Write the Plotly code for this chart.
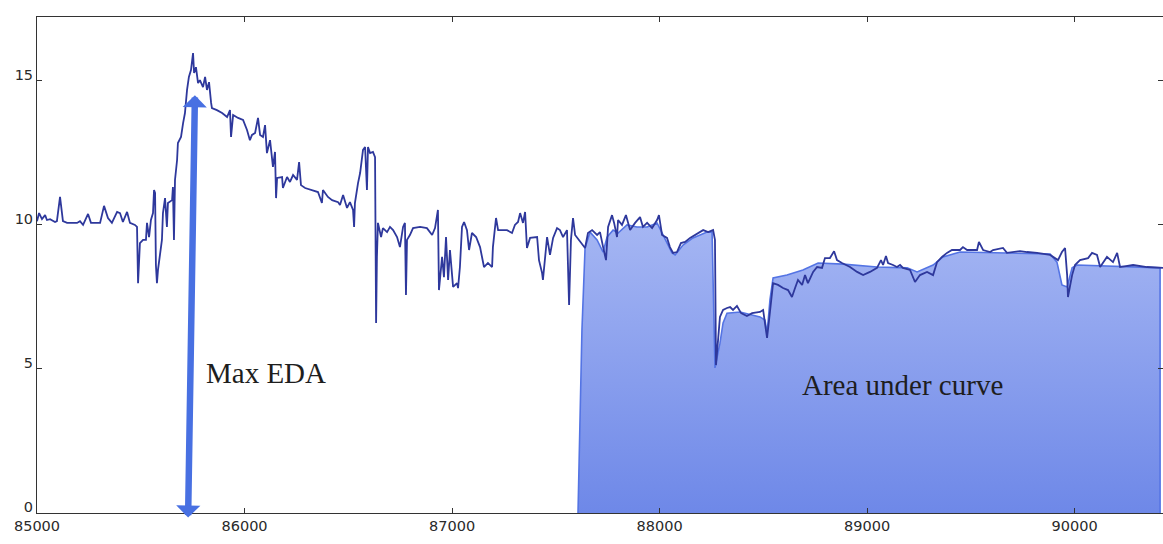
import plotly.graph_objects as go

# ---- EDA signal ----
eda_time = [
    85000, 85010, 85024, 85039, 85048, 85063, 85087, 85096, 85111, 85125,
    85145, 85193, 85207, 85222, 85246, 85260, 85304, 85323, 85342, 85361,
    85386, 85400, 85414, 85434, 85448, 85472, 85482, 85487, 85496, 85511,
    85525, 85530, 85540, 85549, 85559, 85564, 85569, 85573, 85578, 85583,
    85602, 85607, 85617, 85626, 85631, 85651, 85655, 85660, 85665, 85675,
    85679, 85694, 85704, 85713, 85723, 85732, 85742, 85752, 85757, 85766,
    85776, 85785, 85800, 85810, 85819, 85829, 85839, 85843, 85867, 85892,
    85916, 85930, 85935, 85945, 85969, 85993, 86012, 86026, 86036, 86051,
    86065, 86075, 86089, 86099, 86108, 86123, 86137, 86147, 86152, 86157,
    86181, 86185, 86205, 86219, 86234, 86253, 86263, 86272, 86292, 86330,
    86354, 86373, 86378, 86402, 86422, 86451, 86460, 86475, 86494, 86508,
    86523, 86528, 86532, 86547, 86557, 86571, 86581, 86590, 86595, 86605,
    86619, 86629, 86634, 86638, 86643, 86658, 86667, 86687, 86701, 86716,
    86735, 86749, 86764, 86773, 86778, 86783, 86797, 86812, 86846, 86879,
    86904, 86918, 86932, 86937, 86952, 86961, 86971, 86981, 86990, 87005,
    87024, 87029, 87038, 87048, 87058, 87072, 87082, 87096, 87116, 87135,
    87154, 87173, 87193, 87197, 87212, 87222, 87265, 87289, 87303, 87318,
    87328, 87342, 87352, 87361, 87376, 87410, 87419, 87434, 87438, 87458,
    87472, 87487, 87506, 87520, 87535, 87554, 87564, 87573, 87583, 87593,
    87617, 87641, 87655, 87675, 87699, 87713, 87728, 87742, 87752, 87771,
    87781, 87795, 87800, 87819, 87838, 87858, 87882, 87906, 87920, 87940,
    87964, 87988, 87997, 88012, 88036, 88050, 88065, 88084, 88103, 88123,
    88147, 88171, 88195, 88210, 88234, 88258, 88267, 88272, 88291, 88306,
    88325, 88340, 88354, 88373, 88393, 88421, 88446,
    88484, 88499, 88518, 88532, 88547, 88571, 88595, 88619, 88638, 88653,
    88667, 88687, 88701, 88715, 88740, 88759, 88783, 88797, 88821, 88841,
    88855, 88879, 88918, 88952, 88981, 89014, 89048, 89067, 89077, 89091,
    89101, 89125, 89144, 89159, 89173, 89207, 89231, 89255, 89289, 89318,
    89337, 89361, 89385, 89409, 89448, 89462, 89482, 89530, 89539, 89559,
    89593, 89607, 89655, 89674, 89737, 89771, 89819, 89882, 89906, 89920,
    89939, 89954, 89964, 89968, 89988, 90002, 90026, 90065, 90084, 90108,
    90123, 90156, 90185, 90205, 90219, 90282, 90349, 90426,
]
eda_value = [
    10.12, 10.40, 10.19, 10.33, 10.16, 10.19, 10.09, 10.12, 10.96, 10.12,
    10.06, 10.06, 10.12, 9.99, 10.37, 10.06, 10.06, 10.65, 10.23, 10.06,
    10.44, 10.40, 10.09, 10.44, 10.06, 9.99, 9.92, 7.97, 9.36, 9.47,
    9.47, 10.06, 9.57, 10.16, 10.40, 11.20, 11.10, 8.60, 7.97, 8.43,
    9.47, 10.40, 10.92, 9.92, 10.75, 10.85, 11.30, 9.47, 11.55, 12.24,
    12.83, 13.04, 13.52, 13.87, 14.67, 15.12, 15.36, 15.95, 15.26, 15.46,
    14.91, 15.01, 14.77, 15.12, 14.67, 14.94, 14.22, 14.04, 13.97, 13.87,
    13.73, 13.97, 13.04, 13.80, 13.70, 13.63, 13.28, 12.93, 13.11, 13.18,
    13.70, 13.11, 13.04, 13.45, 12.48, 12.93, 12.00, 12.52, 10.92, 11.62,
    11.65, 11.27, 11.65, 11.48, 11.72, 11.55, 12.17, 11.37, 11.27, 11.20,
    11.13, 10.75, 11.20, 10.96, 10.85, 10.78, 10.68, 11.03, 10.58, 10.78,
    10.51, 9.92, 10.75, 11.44, 11.79, 12.59, 12.69, 11.20, 12.69, 12.48,
    12.52, 12.34, 6.59, 8.88, 10.06, 9.57, 9.88, 9.74, 9.92, 9.81,
    9.57, 9.22, 9.92, 10.06, 7.56, 9.47, 9.64, 9.88, 9.92, 9.88,
    9.64, 9.88, 10.51, 7.73, 8.88, 8.18, 9.57, 8.08, 9.12, 7.84,
    7.97, 7.80, 8.53, 9.92, 10.09, 9.81, 9.12, 9.71, 9.57, 9.22,
    8.53, 8.67, 8.53, 9.22, 10.23, 9.81, 9.81, 9.71, 9.99, 10.09,
    10.40, 10.06, 10.44, 9.19, 9.54, 9.57, 8.77, 8.32, 8.08, 9.57,
    8.95, 9.54, 9.88, 9.81, 9.57, 9.81, 7.21, 9.47, 10.23, 9.64,
    9.40, 9.19, 9.71, 9.81, 9.64, 9.74, 9.22, 8.77, 9.92, 10.33,
    10.06, 9.57, 10.16, 9.99, 10.33, 9.81, 10.06, 10.26, 9.92, 10.06,
    9.88, 10.16, 10.33, 9.64, 9.54, 9.22, 9.02, 9.05, 9.36, 9.40,
    9.54, 9.64, 9.74, 9.81, 9.74, 9.81, 9.47, 5.13, 6.80, 7.04,
    7.11, 7.14, 7.04, 7.18, 6.93, 6.83, 6.93,
    6.97, 7.04, 6.07, 6.97, 7.97, 7.91, 7.80, 7.73, 7.49, 7.80,
    8.08, 7.91, 8.25, 7.97, 8.36, 8.53, 8.50, 8.84, 8.84, 9.08,
    8.77, 8.67, 8.53, 8.36, 8.25, 8.36, 8.50, 8.77, 8.60, 8.91,
    8.67, 8.60, 8.53, 8.60, 8.50, 8.43, 8.01, 8.25, 8.36, 8.25,
    8.70, 8.88, 9.02, 9.12, 9.12, 9.22, 9.12, 9.12, 9.40, 9.12,
    9.05, 9.12, 9.19, 9.02, 9.08, 9.05, 9.02, 8.95, 8.84, 8.77,
    9.05, 9.19, 8.25, 7.49, 8.25, 8.60, 8.77, 8.84, 9.02, 8.95,
    8.53, 8.88, 8.70, 9.02, 8.53, 8.60, 8.53, 8.50,
]

# ---- hand-drawn "area under curve" outline ----
area_time = [
    87607, 87617, 87626, 87641, 87665, 87699, 87728, 87747, 87776, 87800,
    87843, 87891, 87940, 87988, 88017, 88060, 88075, 88113, 88161, 88229,
    88253, 88267, 88291, 88306, 88325, 88388, 88484, 88508, 88518, 88532,
    88547, 88614, 88691, 88764, 88884, 89048, 89193, 89241, 89318, 89366,
    89448, 89882, 89915, 89930, 89939, 89964, 89988, 90012, 90412, 90412,
]
area_value = [
    0.0, 3.22, 6.35, 9.19, 9.74, 9.47, 9.05, 9.57, 9.81, 9.71,
    9.99, 9.92, 9.92, 10.06, 9.64, 9.02, 8.95, 9.29, 9.54, 9.74,
    9.74, 5.03, 5.89, 6.59, 6.93, 6.97, 6.80, 6.69, 6.21, 7.39,
    8.15, 8.25, 8.43, 8.67, 8.63, 8.53, 8.50, 8.36, 8.60, 8.88,
    9.05, 8.98, 8.70, 8.25, 7.91, 7.84, 8.50, 8.60, 8.50, 0.0,
]

# ---- annotation values ----
max_arrow_time = [85728, 85761]     # bottom, top
max_arrow_value = [-0.21, 14.49]    # bottom, top
label_max = "Max EDA"
label_area = "Area under curve"
label_max_pos = (85805, 4.85)
label_area_pos = (89170, 4.45)

x_ticks = [85000, 86000, 87000, 88000, 89000, 90000]
y_ticks = [0, 5, 10, 15]
x_range = [85000, 90426]
y_range = [0, 17.2]

fig = go.Figure()

fig.add_trace(go.Scatter(
    x=area_time, y=area_value, mode="lines", fill="toself",
    line=dict(color="rgb(84,116,228)", width=1.6),
    fillgradient=dict(type="vertical",
                      colorscale=[[0, "rgb(110,136,232)"], [1, "rgb(165,182,243)"]]),
    hoverinfo="skip", showlegend=False,
))

fig.add_trace(go.Scatter(
    x=eda_time, y=eda_value, mode="lines",
    line=dict(color="rgb(46,56,156)", width=1.8),
    showlegend=False,
))

fig.add_annotation(
    x=max_arrow_time[1], y=max_arrow_value[1],
    ax=max_arrow_time[0], ay=max_arrow_value[0],
    xref="x", yref="y", axref="x", ayref="y",
    text="", showarrow=True, arrowside="end+start",
    arrowhead=1, startarrowhead=1, arrowsize=0.62, startarrowsize=0.62,
    arrowwidth=6.5, arrowcolor="rgb(72,112,226)", standoff=0, startstandoff=0,
)

fig.add_annotation(
    x=label_max_pos[0], y=label_max_pos[1], xref="x", yref="y",
    text=label_max, showarrow=False, xanchor="left", yanchor="middle",
    font=dict(family="Liberation Serif, Times New Roman, serif", size=29, color="#1e1e1e"),
)
fig.add_annotation(
    x=label_area_pos[0], y=label_area_pos[1], xref="x", yref="y",
    text=label_area, showarrow=False, xanchor="center", yanchor="middle",
    font=dict(family="Liberation Serif, Times New Roman, serif", size=29, color="#1e1e1e"),
)

axis_common = dict(
    showgrid=False, zeroline=False, showline=True, linecolor="#333333", linewidth=1,
    mirror="ticks", ticks="inside", ticklen=5, tickcolor="#333333", automargin=False,
    tickfont=dict(family="DejaVu Sans, sans-serif", size=14.5, color="#2a2a2a"),
)

fig.update_xaxes(range=x_range, tickvals=x_ticks, ticktext=[str(v) for v in x_ticks], **axis_common)
fig.update_yaxes(range=y_range, tickvals=y_ticks, ticktext=[str(v) for v in y_ticks],
                 ticklabelshift=-6, **axis_common)

fig.update_layout(
    width=1163, height=544,
    margin=dict(l=37, r=0, t=17, b=31),
    plot_bgcolor="white", paper_bgcolor="white",
)

# remove the browser's default 8px page margin so the figure sits at the window corner
fig.write_html(
    "out.html",
    config={"displayModeBar": False},
    post_script="document.body.style.margin='0';document.body.style.overflow='hidden';",
)
